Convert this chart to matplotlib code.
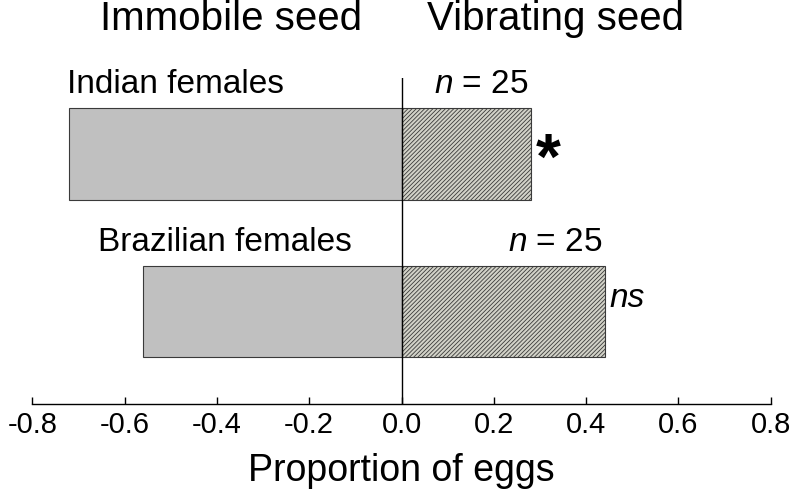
import matplotlib.pyplot as plt
import numpy as np

# Data
groups = ['Indian females', 'Brazilian females']
immobile = [-0.72, -0.56]
vibrating = [0.28, 0.44]
n_labels = ['$\\it{n}$ = 25', '$\\it{n}$ = 25']
sig = ['*', 'ns']
ticks = [-0.8, -0.6, -0.4, -0.2, 0.0, 0.2, 0.4, 0.6, 0.8]
tick_labels = ['-0.8', '-0.6', '-0.4', '-0.2', '0.0', '0.2', '0.4', '0.6', '0.8']

plt.rcParams['font.family'] = ['Liberation Sans', 'DejaVu Sans']
plt.rcParams['hatch.linewidth'] = 0.6
plt.rcParams['hatch.color'] = '#3a3a3a'
plt.rcParams['mathtext.fontset'] = 'custom'
plt.rcParams['mathtext.it'] = 'Liberation Sans:italic'
plt.rcParams['mathtext.rm'] = 'Liberation Sans'

fig = plt.figure(figsize=(7.92, 4.99), dpi=100)
ax = fig.add_axes([0.0408, 0.19, 0.9323, 0.653])

y = np.array([1, 0])
h = 0.58
ax.barh(y, immobile, height=h, color='#c0c0c0', edgecolor='#3a3a3a', linewidth=0.8)
ax.barh(y, vibrating, height=h, color='#d2d2c8', edgecolor='#3a3a3a', linewidth=0.8,
        hatch='////////')

ax.axvline(0, color='black', linewidth=1.0)

# Group labels and annotations
ax.text(-0.725, 1 + h / 2 + 0.05, groups[0], fontsize=24, ha='left', va='bottom')
ax.text(-0.658, 0 + h / 2 + 0.05, groups[1], fontsize=24, ha='left', va='bottom')
for yi, v, nl in zip(y, vibrating, n_labels):
    ax.text(v - 0.005, yi + h / 2 + 0.05, nl, fontsize=24, ha='right', va='bottom')
ax.text(vibrating[0] + 0.012, 0.95, sig[0], fontsize=46, fontweight='bold', ha='left', va='center')
ax.text(vibrating[1] + 0.01, 0.08, sig[1], fontsize=24, style='italic', ha='left', va='center')

# Side headers
fig.text(231 / 792, 1 - 30 / 499, 'Immobile seed', fontsize=29, ha='center', va='baseline')
fig.text(556 / 792, 1 - 30 / 499, 'Vibrating seed', fontsize=29, ha='center', va='baseline')

ax.set_xlim(-0.8, 0.8)
ax.set_ylim(-0.59, 1.48)
ax.set_xticks(ticks)
ax.set_xticklabels(tick_labels)
ax.tick_params(axis='x', direction='in', length=5, width=1, labelsize=21, pad=5)
ax.set_yticks([])
for s in ['top', 'right', 'left']:
    ax.spines[s].set_visible(False)
ax.spines['bottom'].set_linewidth(1)
ax.set_xlabel('Proportion of eggs', fontsize=27, labelpad=10)

plt.savefig('out.png', dpi=100)
